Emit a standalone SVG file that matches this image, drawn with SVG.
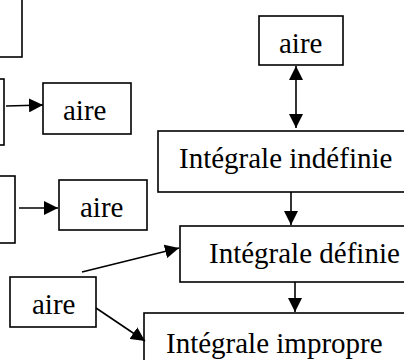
<svg xmlns="http://www.w3.org/2000/svg" width="404" height="360" viewBox="0 0 404 360">
<defs>
<style>
.box{fill:#fff;stroke:#000;stroke-width:1.6}
.lbl{font-family:"Liberation Serif","Times New Roman",serif;font-size:29px;fill:#000}
.con{stroke:#000;stroke-width:1.6;fill:none}
</style>
<marker id="ah" markerUnits="userSpaceOnUse" markerWidth="15" markerHeight="14" refX="14" refY="7" orient="auto-start-reverse">
<path d="M0,0 L14,7 L0,14 z" fill="#000"/>
</marker>
</defs>
<rect width="404" height="360" fill="#fff"/>
<g id="box-topleft"><rect class="box" x="-10" y="-10" width="32" height="67"/></g>
<g id="box-left2"><rect class="box" x="-10" y="79" width="14" height="66"/></g>
<g id="box-left3"><rect class="box" x="-10" y="176" width="25" height="67"/></g>
<g id="aire1"><rect class="box" x="43" y="83" width="88" height="51"/><text class="lbl" x="63" y="120">aire</text></g>
<g id="aire-top"><rect class="box" x="259" y="16" width="84" height="49"/><text class="lbl" x="279" y="53">aire</text></g>
<g id="indefinie"><rect class="box" x="158" y="131" width="260" height="61"/><text class="lbl" x="179" y="168">Intégrale indéfinie</text></g>
<g id="aire2"><rect class="box" x="59" y="180" width="88" height="50"/><text class="lbl" x="80" y="217">aire</text></g>
<g id="definie"><rect class="box" x="180" y="226" width="240" height="56"/><text class="lbl" x="209" y="263">Intégrale définie</text></g>
<g id="aire3"><rect class="box" x="10" y="277" width="86" height="50"/><text class="lbl" x="32" y="314">aire</text></g>
<g id="impropre"><rect class="box" x="144" y="313" width="270" height="60"/><text class="lbl" x="166" y="353">Intégrale impropre</text></g>
<g id="connectors">
<line class="con" x1="6" y1="106" x2="43" y2="105" marker-end="url(#ah)"/>
<line class="con" x1="19" y1="208" x2="58" y2="208" marker-end="url(#ah)"/>
<line class="con" x1="296" y1="66" x2="296" y2="128" marker-start="url(#ah)" marker-end="url(#ah)"/>
<line class="con" x1="291" y1="192" x2="291" y2="225" marker-end="url(#ah)"/>
<line class="con" x1="295" y1="282" x2="295" y2="312" marker-end="url(#ah)"/>
<line class="con" x1="82" y1="272" x2="179" y2="248" marker-end="url(#ah)"/>
<line class="con" x1="96" y1="308" x2="145" y2="341" marker-end="url(#ah)"/>
</g>
</svg>
